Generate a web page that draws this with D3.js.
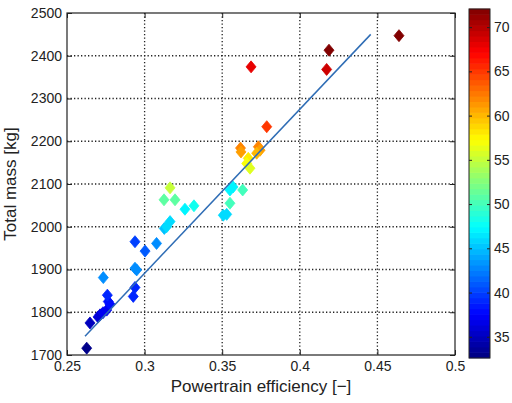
<!DOCTYPE html>
<html>
<head>
<meta charset="utf-8">
<script src="https://cdnjs.cloudflare.com/ajax/libs/d3/7.8.5/d3.min.js"></script>
<style>
  body { margin: 0; background: #fff; }
  text { font-family: "Liberation Sans", Arial, sans-serif; fill: #222; }
</style>
</head>
<body>
<svg id="chart" width="512" height="403"></svg>
<script>
// data
var efficiency = [0.2627, 0.2648, 0.2700, 0.2713, 0.2732, 0.2756, 0.2777, 0.2766, 0.2760, 0.2734,
  0.2927, 0.2938, 0.2938, 0.2949, 0.2938, 0.3003, 0.3077, 0.3127, 0.3142, 0.3164,
  0.3260, 0.3318, 0.3125, 0.3196, 0.3164, 0.3507, 0.3529, 0.3550, 0.3570, 0.3632,
  0.3550, 0.3618, 0.3621, 0.3668, 0.3658, 0.3679, 0.3733, 0.3744, 0.3722, 0.3686,
  0.3787, 0.4173, 0.4188, 0.4639];
var mass = [1716, 1775, 1789, 1794, 1799, 1805, 1819, 1825, 1840, 1881,
  1837, 1858, 1903, 1899, 1965, 1943, 1961, 1996, 2000, 2012,
  2041, 2049, 2063, 2063, 2091, 2027, 2029, 2086, 2093, 2086,
  2055, 2184, 2175, 2160, 2148, 2137, 2187, 2179, 2172, 2374,
  2234, 2368, 2413, 2447];
var colorVal = [33, 35, 36, 36, 37, 37, 38, 38, 39, 43,
  39, 39, 43, 43, 40, 41, 43, 45, 46, 46,
  47, 48, 51, 51, 55, 46, 46, 47, 47, 50,
  50, 62, 61, 58, 57, 56, 62, 61, 60, 68,
  65, 69, 72, 72];
var fitX = [0.2616, 0.4457];
var fitY = [1744, 2450];
var xTicks = [0.25, 0.3, 0.35, 0.4, 0.45, 0.5];
var yTicks = [1700, 1800, 1900, 2000, 2100, 2200, 2300, 2400, 2500];
var cTicks = [35, 40, 45, 50, 55, 60, 65, 70];
var cRange = [32.6, 72.05];

var svg = d3.select("#chart");
var pLeft = 67, pRight = 455, pTop = 13, pBottom = 355;

var x = d3.scaleLinear().domain([0.25, 0.5]).range([pLeft, pRight]);
var y = d3.scaleLinear().domain([1700, 2500]).range([pBottom, pTop]);

function jet(t) {
  var c = function(v) { return Math.max(0, Math.min(1, v)); };
  var r = c(1.5 - Math.abs(4 * t - 3)),
      g = c(1.5 - Math.abs(4 * t - 2)),
      b = c(1.5 - Math.abs(4 * t - 1));
  return d3.rgb(r * 255, g * 255, b * 255).toString();
}
var cNorm = d3.scaleLinear().domain(cRange).range([0, 1]).clamp(true);
var color = function(v) { return jet(cNorm(v)); };

// grid
svg.append("g").selectAll("line").data(xTicks.slice(1, -1)).enter().append("line")
  .attr("x1", d => x(d)).attr("x2", d => x(d)).attr("y1", pTop).attr("y2", pBottom)
  .style("stroke", "#222").style("stroke-width", 1.3).style("stroke-dasharray", "1.3,2.2");
svg.append("g").selectAll("line").data(yTicks.slice(1, -1)).enter().append("line")
  .attr("y1", d => y(d)).attr("y2", d => y(d)).attr("x1", pLeft).attr("x2", pRight)
  .style("stroke", "#222").style("stroke-width", 1.3).style("stroke-dasharray", "1.3,2.2");

// box
svg.append("rect")
  .attr("x", pLeft).attr("y", pTop).attr("width", pRight - pLeft).attr("height", pBottom - pTop)
  .style("fill", "none").style("stroke", "#222").style("stroke-width", 1.2);

// axes (ticks inward)
var xAxis = svg.append("g").attr("transform", "translate(0," + pBottom + ")")
  .call(d3.axisBottom(x).tickValues(xTicks).tickFormat(d3.format("")).tickSizeInner(-5).tickSizeOuter(0).tickPadding(6));
var xTop = svg.append("g").attr("transform", "translate(0," + pTop + ")")
  .call(d3.axisTop(x).tickValues(xTicks).tickFormat("").tickSizeInner(-5).tickSizeOuter(0));
var yAxis = svg.append("g").attr("transform", "translate(" + pLeft + ",0)")
  .call(d3.axisLeft(y).tickValues(yTicks).tickFormat(d3.format("d")).tickSizeInner(-5).tickSizeOuter(0).tickPadding(5));
var yRight = svg.append("g").attr("transform", "translate(" + pRight + ",0)")
  .call(d3.axisRight(y).tickValues(yTicks).tickFormat("").tickSizeInner(-5).tickSizeOuter(0));
[xAxis, xTop, yAxis, yRight].forEach(function(g) {
  g.select(".domain").remove();
  g.selectAll("line").style("stroke", "#222");
  g.selectAll("text").style("font-size", "14px").style("font-family", "Liberation Sans, Arial, sans-serif").style("fill", "#222");
});

// points
var pts = efficiency.map(function(e, i) { return {x: e, y: mass[i], c: colorVal[i]}; });
svg.append("g").selectAll("path").data(pts).enter().append("path")
  .attr("transform", d => "translate(" + x(d.x) + "," + y(d.y) + ")")
  .attr("d", "M0,-6L5,0L0,6L-5,0Z")
  .style("fill", d => color(d.c))
  .style("stroke", d => color(d.c))
  .style("stroke-width", 0.8);

// fitted line
var line = d3.line().x(d => x(d[0])).y(d => y(d[1]));
svg.append("path")
  .datum(fitX.map(function(v, i) { return [v, fitY[i]]; }))
  .attr("d", line)
  .style("fill", "none").style("stroke", "#2f6db5").style("stroke-width", 1.5);

// axis labels
svg.append("text")
  .attr("x", (pLeft + pRight) / 2).attr("y", 392)
  .attr("text-anchor", "middle").style("font-size", "17px")
  .text("Powertrain efficiency [\u2212]");
svg.append("text")
  .attr("transform", "translate(16," + ((pTop + pBottom) / 2) + ") rotate(-90)")
  .attr("text-anchor", "middle").style("font-size", "17px")
  .text("Total mass [kg]");

// colorbar
var cbL = 469, cbR = 490, cbT = 9, cbB = 358;
var cy = d3.scaleLinear().domain(cRange).range([cbB, cbT]);
var nSteps = 64;
var steps = d3.range(nSteps).map(function(i) {
  return cRange[0] + (cRange[1] - cRange[0]) * i / nSteps;
});
var stepH = (cbB - cbT) / nSteps;
svg.append("g").selectAll("rect").data(steps).enter().append("rect")
  .attr("x", cbL).attr("width", cbR - cbL)
  .attr("y", d => cy(d) - stepH - 0.3).attr("height", stepH + 0.6)
  .style("fill", d => jet((d - cRange[0]) / (cRange[1] - cRange[0]) + 0.5 / nSteps));
svg.append("rect")
  .attr("x", cbL).attr("y", cbT).attr("width", cbR - cbL).attr("height", cbB - cbT)
  .style("fill", "none").style("stroke", "#222").style("stroke-width", 1);
var cAxis = svg.append("g").attr("transform", "translate(" + cbR + ",0)")
  .call(d3.axisRight(cy).tickValues(cTicks).tickSizeInner(-3).tickSizeOuter(0).tickPadding(4));
var cAxisL = svg.append("g").attr("transform", "translate(" + cbL + ",0)")
  .call(d3.axisLeft(cy).tickValues(cTicks).tickFormat("").tickSizeInner(-3).tickSizeOuter(0));
[cAxis, cAxisL].forEach(function(g) {
  g.select(".domain").remove();
  g.selectAll("line").style("stroke", "#222");
  g.selectAll("text").style("font-size", "14px").style("font-family", "Liberation Sans, Arial, sans-serif").style("fill", "#222");
});
</script>
</body>
</html>
